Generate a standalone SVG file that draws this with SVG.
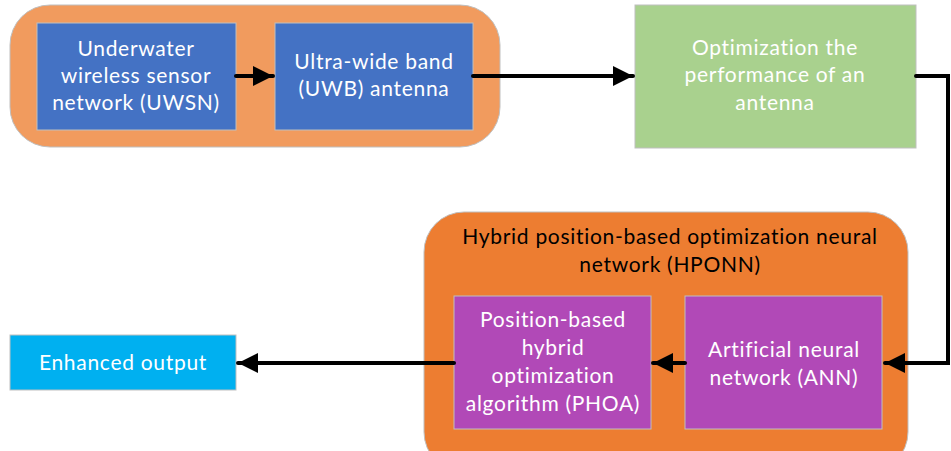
<svg xmlns="http://www.w3.org/2000/svg" width="951" height="451" viewBox="0 0 951 451">
<defs>
<marker id="ah" markerUnits="userSpaceOnUse" markerWidth="22" markerHeight="20" refX="20" refY="10" orient="auto">
<path d="M0,0 L20,10 L0,20 Z" fill="#000"/>
</marker>
<style>
text{font-family:Lato,"Open Sans","Liberation Sans",sans-serif;font-size:21px;letter-spacing:0.7px;text-anchor:middle}
.w{fill:#fff}
.k{fill:#000}
.box{stroke:#BFBFBF;stroke-width:1}
.con{fill:none;stroke:#000;stroke-width:4;stroke-linecap:round;stroke-linejoin:miter}
</style>
</defs>
<rect width="951" height="451" fill="#fff"/>
<g id="container-top">
<rect x="10" y="5" width="490" height="142" rx="40" fill="#F19B5E" stroke="#BFBFBF"/>
</g>
<g id="uwsn">
<rect class="box" x="37" y="23" width="199" height="107" fill="#4472C4"/>
<text class="w" x="136" y="56">Underwater</text>
<text class="w" x="136" y="83">wireless sensor</text>
<text class="w" x="136" y="110">network (UWSN)</text>
</g>
<g id="uwb">
<rect class="box" x="275" y="23" width="198" height="107" fill="#4472C4"/>
<text class="w" x="374" y="69">Ultra-wide band</text>
<text class="w" x="374" y="96">(UWB) antenna</text>
</g>
<g id="optim">
<rect class="box" x="635" y="5" width="281" height="143" fill="#A9D18E"/>
<text class="w" x="775" y="55">Optimization the</text>
<text class="w" x="775" y="82">performance of an</text>
<text class="w" x="775" y="110">antenna</text>
</g>
<g id="hponn">
<rect x="424" y="212" width="484" height="260" rx="40" fill="#ED7D31" stroke="#BFBFBF"/>
<text class="k" x="670" y="244">Hybrid position-based optimization neural</text>
<text class="k" x="670" y="272">network (HPONN)</text>
</g>
<g id="phoa">
<rect class="box" x="454" y="296" width="197" height="133" fill="#B149B7"/>
<text class="w" x="553" y="327">Position-based</text>
<text class="w" x="553" y="355">hybrid</text>
<text class="w" x="553" y="383">optimization</text>
<text class="w" x="553" y="411">algorithm (PHOA)</text>
</g>
<g id="ann">
<rect class="box" x="685" y="296" width="197" height="133" fill="#B149B7"/>
<text class="w" x="784" y="357">Artificial neural</text>
<text class="w" x="784" y="385">network (ANN)</text>
</g>
<g id="output">
<rect class="box" x="10" y="335" width="226" height="55" fill="#00B0F0"/>
<text class="w" x="123" y="370">Enhanced output</text>
</g>
<g id="connectors">
<path class="con" d="M236,76 L273,76" marker-end="url(#ah)"/>
<path class="con" d="M473,76 L633,76" marker-end="url(#ah)"/>
<path class="con" d="M916,76 L948,76 L948,363 L885,363" marker-end="url(#ah)"/>
<path class="con" d="M685,363 L653,363" marker-end="url(#ah)"/>
<path class="con" d="M454,363 L238,363" marker-end="url(#ah)"/>
</g>
</svg>
